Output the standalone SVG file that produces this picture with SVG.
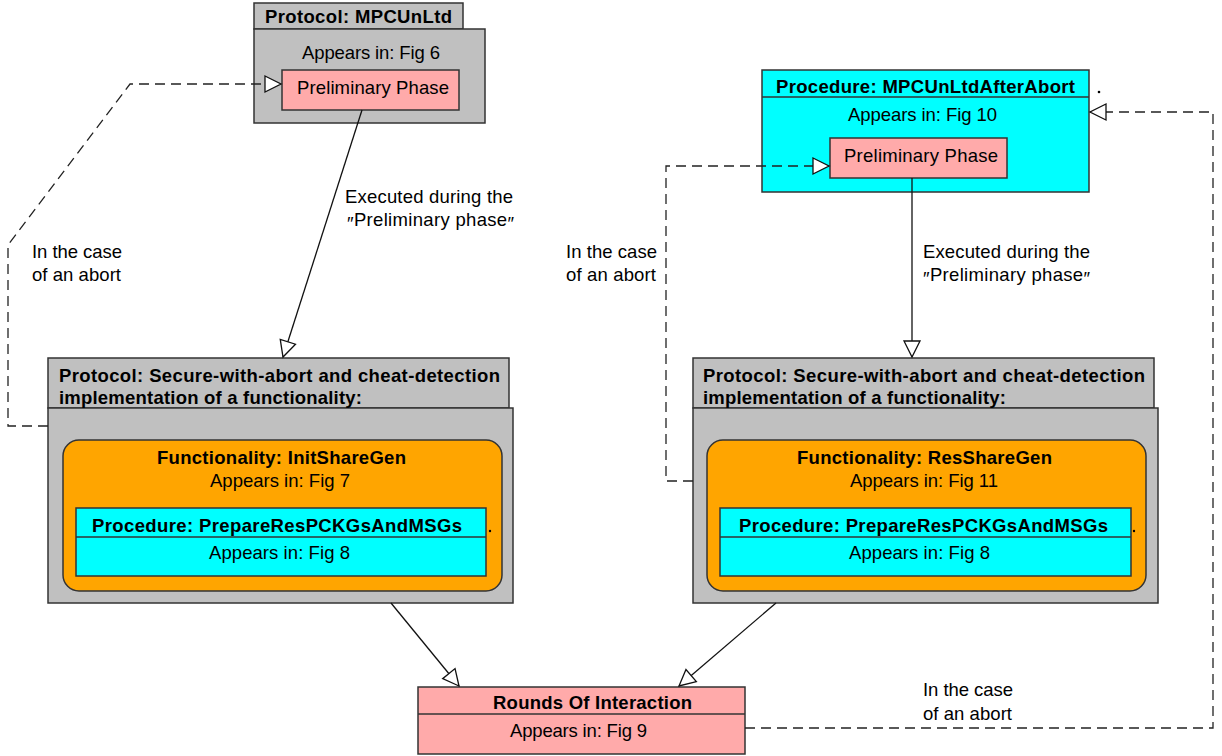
<svg xmlns="http://www.w3.org/2000/svg" width="1222" height="756" viewBox="0 0 1222 756">
<style>
text{font-family:"Liberation Sans","Noto Sans CJK SC",sans-serif;font-size:18.5px;fill:#000}
.b{font-weight:bold}
.grey{fill:#C0C0C0;stroke:#333;stroke-width:1.5}
.pink{fill:#FFAAAA;stroke:#333;stroke-width:1.5}
.cyan{fill:#00FFFF;stroke:#333;stroke-width:1.5}
.orange{fill:#FFA500;stroke:#333;stroke-width:1.5}
.div{stroke:#333;stroke-width:1.5;fill:none}
.solid{fill:none;stroke:#111;stroke-width:1.3}
.dash{fill:none;stroke:#222;stroke-width:1.3;stroke-dasharray:10 6}
</style>
<defs>
<marker id="tri" markerUnits="userSpaceOnUse" markerWidth="18" markerHeight="18" refX="16" refY="8" orient="auto" overflow="visible">
<path d="M0,0 L16,8 L0,16 Z" fill="#fff" stroke="#111" stroke-width="1.3" stroke-dasharray="none"/>
</marker>
</defs>

<g id="node-mpcunltd">
<rect class="grey" x="254" y="3" width="209" height="26"/>
<rect class="grey" x="254" y="29" width="231" height="94"/>
<text class="b" x="265" y="23" textLength="187">Protocol: MPCUnLtd</text>
<text x="302" y="59" textLength="138">Appears in: Fig 6</text>
<rect class="pink" x="282" y="70" width="177" height="40"/>
<text x="297" y="94" textLength="152">Preliminary Phase</text>
</g>

<g id="node-afterabort">
<rect class="cyan" x="762" y="70" width="327" height="122"/>
<line class="div" x1="762" y1="97" x2="1089" y2="97"/>
<text class="b" x="776" y="93" textLength="299">Procedure: MPCUnLtdAfterAbort</text>
<text x="848" y="121" textLength="149">Appears in: Fig 10</text>
<rect class="pink" x="830" y="138" width="177" height="40"/>
<text x="844" y="162" textLength="154">Preliminary Phase</text>
<circle cx="1099" cy="92" r="1.3" fill="#000"/>
</g>

<g id="node-protocol-left">
<rect class="grey" x="48" y="358" width="461" height="50"/>
<rect class="grey" x="48" y="408" width="465" height="195"/>
<text class="b" x="59" y="382" textLength="441">Protocol: Secure-with-abort and cheat-detection</text>
<text class="b" x="59" y="404" textLength="303">implementation of a functionality:</text>
<rect class="orange" x="63" y="440" width="439" height="151" rx="16"/>
<text class="b" x="157" y="464" textLength="249">Functionality: InitShareGen</text>
<text x="210" y="487" textLength="140">Appears in: Fig 7</text>
<rect class="cyan" x="76" y="508" width="410" height="68"/>
<line class="div" x1="76" y1="537" x2="486" y2="537"/>
<text class="b" x="92" y="532" textLength="370">Procedure: PrepareResPCKGsAndMSGs</text>
<text x="209" y="559" textLength="141">Appears in: Fig 8</text>
<circle cx="490" cy="531" r="1.2" fill="#000"/>
</g>

<g id="node-protocol-right">
<rect class="grey" x="693" y="358" width="461" height="50"/>
<rect class="grey" x="693" y="408" width="465" height="195"/>
<text class="b" x="703" y="382" textLength="442">Protocol: Secure-with-abort and cheat-detection</text>
<text class="b" x="703" y="404" textLength="303">implementation of a functionality:</text>
<rect class="orange" x="707" y="440" width="439" height="151" rx="16"/>
<text class="b" x="797" y="464" textLength="255">Functionality: ResShareGen</text>
<text x="850" y="487" textLength="148">Appears in: Fig 11</text>
<rect class="cyan" x="720" y="508" width="411" height="68"/>
<line class="div" x1="720" y1="537" x2="1131" y2="537"/>
<text class="b" x="739" y="532" textLength="369">Procedure: PrepareResPCKGsAndMSGs</text>
<text x="849" y="559" textLength="141">Appears in: Fig 8</text>
<circle cx="1134" cy="531" r="1.2" fill="#000"/>
</g>

<g id="node-rounds">
<rect class="pink" x="418" y="687" width="327" height="67"/>
<line class="div" x1="418" y1="714" x2="745" y2="714"/>
<text class="b" x="493" y="709" textLength="199">Rounds Of Interaction</text>
<text x="510" y="737" textLength="137">Appears in: Fig 9</text>
</g>

<g id="connectors">
<path class="solid" d="M362,110 L283,357" marker-end="url(#tri)"/>
<text x="345" y="203" textLength="168">Executed during the</text>
<text x="347" y="226" textLength="167"><tspan dy="4">″</tspan><tspan dy="-4">Preliminary phase</tspan><tspan dy="4">″</tspan></text>
<path class="dash" d="M48,426 L8,426 L8,245 L130,84 L281,84" marker-end="url(#tri)"/>
<text x="32" y="258" textLength="90">In the case</text>
<text x="32" y="281" textLength="89">of an abort</text>
<path class="solid" d="M912,178 L912,357" marker-end="url(#tri)"/>
<text x="923" y="258" textLength="167">Executed during the</text>
<text x="923" y="281" textLength="167"><tspan dy="4">″</tspan><tspan dy="-4">Preliminary phase</tspan><tspan dy="4">″</tspan></text>
<path class="dash" d="M693,481 L666,481 L666,166 L829,166" marker-end="url(#tri)"/>
<text x="566" y="258" textLength="91">In the case</text>
<text x="566" y="281" textLength="90">of an abort</text>
<path class="solid" d="M391,603 L459,686" marker-end="url(#tri)"/>
<path class="solid" d="M776,603 L679,686" marker-end="url(#tri)"/>
<path class="dash" d="M745,728 L1213,728 L1213,112 L1090,112" marker-end="url(#tri)"/>
<text x="923" y="696" textLength="90">In the case</text>
<text x="923" y="720" textLength="89">of an abort</text>
</g>
</svg>
